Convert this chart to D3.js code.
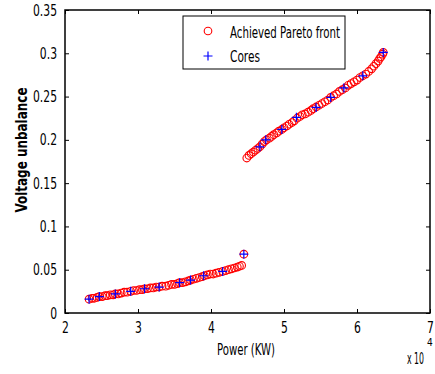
<!DOCTYPE html>
<html><head><meta charset="utf-8">
<script src="https://cdn.jsdelivr.net/npm/d3@7"></script>
<style>
body{margin:0;background:#fff;}
text{font-family:"DejaVu Sans Condensed","DejaVu Sans",sans-serif;}
</style></head><body>
<svg id="c" width="435" height="374"></svg>
<script>
// Achieved Pareto front (Power in x10^4 KW, Voltage unbalance)
const paretoPowerLow = [2.33,2.37,2.40,2.44,2.47,2.51,2.55,2.58,2.62,2.66,2.69,2.73,2.77,2.81,2.85,2.90,2.94,2.98,3.02,3.06,3.09,3.13,3.17,3.21,3.25,3.29,3.33,3.38,3.42,3.46,3.50,3.54,3.57,3.61,3.65,3.69,3.72,3.76,3.80,3.84,3.88,3.91,3.95,3.99,4.03,4.07,4.11,4.16,4.20,4.24,4.28,4.32,4.36,4.39,4.42,4.45];
const paretoVULow = [0.016,0.017,0.017,0.018,0.019,0.019,0.020,0.020,0.021,0.021,0.022,0.022,0.023,0.024,0.024,0.025,0.026,0.026,0.027,0.027,0.028,0.028,0.029,0.029,0.030,0.030,0.031,0.031,0.032,0.033,0.033,0.034,0.035,0.035,0.036,0.037,0.038,0.039,0.040,0.041,0.042,0.043,0.044,0.045,0.045,0.046,0.047,0.048,0.049,0.050,0.051,0.052,0.053,0.054,0.055,0.068];
const paretoPowerHigh = [4.49,4.52,4.55,4.58,4.61,4.64,4.67,4.70,4.73,4.76,4.80,4.83,4.86,4.90,4.93,4.97,5.00,5.04,5.07,5.11,5.14,5.18,5.22,5.25,5.29,5.33,5.37,5.40,5.44,5.48,5.52,5.56,5.60,5.64,5.68,5.72,5.76,5.80,5.84,5.88,5.92,5.96,6.00,6.04,6.08,6.12,6.16,6.20,6.23,6.26,6.29,6.31,6.33,6.35,6.36];
const paretoVUHigh = [0.179,0.182,0.184,0.186,0.188,0.190,0.192,0.195,0.198,0.200,0.202,0.204,0.206,0.208,0.210,0.212,0.214,0.216,0.218,0.220,0.222,0.225,0.227,0.229,0.230,0.232,0.234,0.236,0.238,0.240,0.242,0.244,0.246,0.249,0.251,0.253,0.256,0.258,0.260,0.263,0.265,0.267,0.269,0.272,0.274,0.276,0.279,0.282,0.285,0.288,0.291,0.294,0.296,0.299,0.301];
// Cores
const corePower = [2.33,2.47,2.69,2.90,3.09,3.29,3.57,3.72,3.90,4.16,4.45,4.67,4.75,4.97,5.17,5.44,5.64,5.82,6.08,6.36];
const coreVU = [0.016,0.019,0.022,0.025,0.028,0.030,0.035,0.038,0.043,0.048,0.068,0.192,0.200,0.212,0.226,0.2375,0.249,0.260,0.274,0.301];
// Ticks
const xTicks = [2,3,4,5,6,7];
const yTicks = [0,0.05,0.1,0.15,0.2,0.25,0.3,0.35];
const yTickLabels = ["0","0.05","0.1","0.15","0.2","0.25","0.3","0.35"];

const svg = d3.select("#c");
const L=65,R=430,T=10,B=313;
const x = d3.scaleLinear().domain([2,7]).range([L,R]);
const y = d3.scaleLinear().domain([0,0.35]).range([B,T]);

const pareto = [];
paretoPowerLow.forEach((p,i)=>pareto.push([p,paretoVULow[i]]));
paretoPowerHigh.forEach((p,i)=>pareto.push([p,paretoVUHigh[i]]));
const cores = corePower.map((p,i)=>[p,coreVU[i]]);

function squeeze(sel,k){
  sel.each(function(){const w=this.getComputedTextLength();
    d3.select(this).attr("textLength",w*k).attr("lengthAdjust","spacingAndGlyphs");});
}

// axes
const fs = "16px";
const gB = svg.append("g").attr("transform",`translate(0,${B})`)
  .call(d3.axisBottom(x).tickValues(xTicks).tickSizeInner(-4).tickSizeOuter(0).tickPadding(9).tickFormat(d3.format("d")));
const gT = svg.append("g").attr("transform",`translate(0,${T})`)
  .call(d3.axisTop(x).tickValues(xTicks).tickSizeInner(-4).tickSizeOuter(0).tickFormat(""));
const gL = svg.append("g").attr("transform",`translate(${L},0)`)
  .call(d3.axisLeft(y).tickValues(yTicks).tickSizeInner(-4).tickSizeOuter(0).tickPadding(8).tickFormat((d,i)=>yTickLabels[i]));
const gR = svg.append("g").attr("transform",`translate(${R},0)`)
  .call(d3.axisRight(y).tickValues(yTicks).tickSizeInner(-4).tickSizeOuter(0).tickFormat(""));
[gB,gT,gL,gR].forEach(g=>{
  g.select(".domain").remove();
  g.selectAll("line").attr("stroke","#000");
  g.selectAll("text").attr("fill","#000").style("font-size",fs);
});
squeeze(gB.selectAll("text"),0.75);
squeeze(gL.selectAll("text"),0.75);
svg.append("rect").attr("x",L).attr("y",T).attr("width",R-L).attr("height",B-T)
  .attr("fill","none").attr("stroke","#000").attr("stroke-width",1.5);

// pareto circles
svg.append("g").selectAll("circle").data(pareto).join("circle")
  .attr("cx",d=>x(d[0])).attr("cy",d=>y(d[1])).attr("r",3.8)
  .attr("fill","none").attr("stroke","#ff0000").attr("stroke-width",1.1);

// cores plus
const ps = 4.5;
svg.append("g").selectAll("path").data(cores).join("path")
  .attr("d",d=>{const cx=x(d[0]),cy=y(d[1]);return `M${cx-ps},${cy}H${cx+ps}M${cx},${cy-ps}V${cy+ps}`;})
  .attr("stroke","#0000ff").attr("stroke-width",1.2).attr("fill","none");

// labels
svg.append("text").attr("x",246).attr("y",355).attr("text-anchor","middle").style("font-size","16px")
  .attr("textLength",58).attr("lengthAdjust","spacingAndGlyphs").text("Power (KW)");
svg.append("text").attr("transform","translate(27,150) rotate(-90)").attr("text-anchor","middle")
  .style("font-size","16px").style("font-weight","bold")
  .attr("textLength",125).attr("lengthAdjust","spacingAndGlyphs").text("Voltage unbalance");
svg.append("text").attr("x",407).attr("y",364).style("font-size","15px")
  .attr("textLength",17).attr("lengthAdjust","spacingAndGlyphs").text("x 10");
svg.append("text").attr("x",427).attr("y",346).style("font-size","10px").text("4");

// legend
const lg = svg.append("g");
lg.append("rect").attr("x",183).attr("y",16).attr("width",162).attr("height",53).attr("fill","#fff").attr("stroke","#000").attr("stroke-width",1);
lg.append("circle").attr("cx",208).attr("cy",31).attr("r",3.8).attr("fill","none").attr("stroke","#ff0000").attr("stroke-width",1.1);
lg.append("path").attr("d",`M${208-ps},56H${208+ps}M208,${56-ps}V${56+ps}`).attr("stroke","#0000ff").attr("stroke-width",1.2);
lg.append("text").attr("x",230).attr("y",38).style("font-size","16px")
  .attr("textLength",110).attr("lengthAdjust","spacingAndGlyphs").text("Achieved Pareto front");
lg.append("text").attr("x",230).attr("y",62).style("font-size","16px")
  .attr("textLength",30).attr("lengthAdjust","spacingAndGlyphs").text("Cores");
</script></body></html>
